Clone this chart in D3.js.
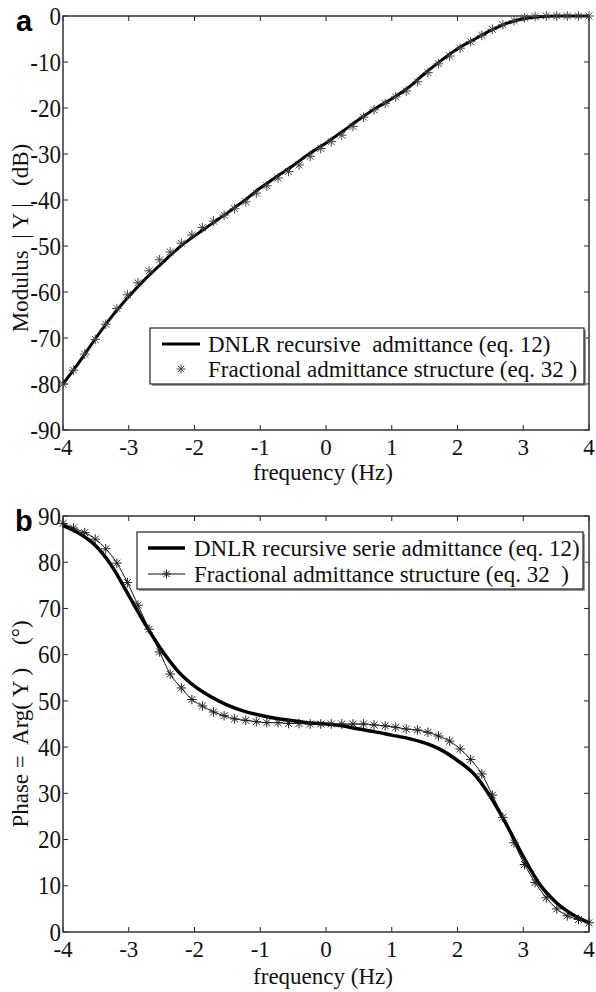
<!DOCTYPE html>
<html><head><meta charset="utf-8">
<script src="https://cdn.jsdelivr.net/npm/d3@7"></script>
<style>
html,body{margin:0;padding:0;background:#fff;}
svg{display:block;font-family:"Liberation Serif","Times New Roman",serif;}
</style></head><body>
<svg id="chart" width="596" height="992"></svg>
<script>
// ---------- data ----------
const xTicks = [-4,-3,-2,-1,0,1,2,3,4];
const yTicksA = [0,-10,-20,-30,-40,-50,-60,-70,-80,-90];
const yTicksB = [0,10,20,30,40,50,60,70,80,90];

// DNLR recursive admittance (line), frequency grid
const lineFreq = [-4,-3.75,-3.5,-3.25,-3,-2.75,-2.5,-2.25,-2,-1.75,-1.5,-1.25,-1,-0.75,-0.5,-0.25,0,0.25,0.5,0.75,1,1.25,1.5,1.75,2,2.25,2.5,2.75,3,3.25,3.5,3.75,4];
const modulusDNLR = [-80,-75.2,-70,-65.2,-61,-57.2,-53.8,-50.5,-47.8,-45.3,-42.8,-40.2,-37.4,-34.9,-32.5,-29.9,-27.6,-25.1,-22.5,-20.1,-18,-15.6,-12.5,-9.7,-7.1,-5.1,-3.2,-1.6,-0.6,-0.15,0,0,0];
const phaseDNLR = [87.9,86.2,83.5,79.0,72.8,66.6,61.0,56.4,53.2,50.9,49.1,47.8,46.9,46.2,45.7,45.2,45.0,44.6,43.9,43.3,42.6,41.9,40.9,39.4,37.1,34.2,29.3,23.1,16.3,10.3,6.4,3.8,2.0];

// Fractional admittance structure (markers)
const starFreq = [-4.00,-3.84,-3.67,-3.51,-3.35,-3.18,-3.02,-2.86,-2.69,-2.53,-2.37,-2.20,-2.04,-1.88,-1.71,-1.55,-1.39,-1.22,-1.06,-0.90,-0.73,-0.57,-0.41,-0.24,-0.08,0.08,0.24,0.41,0.57,0.73,0.90,1.06,1.22,1.39,1.55,1.71,1.88,2.04,2.20,2.37,2.53,2.69,2.86,3.02,3.18,3.35,3.51,3.67,3.84,4.00];
const modulusFrac = [-80,-77.0,-73.5,-70.3,-67.0,-63.6,-60.6,-58.0,-55.4,-53.0,-51.3,-49.4,-47.6,-46.0,-44.6,-43.3,-41.9,-40.4,-38.5,-36.9,-35.2,-33.8,-32.4,-30.5,-28.8,-27.3,-25.9,-24.0,-22.0,-20.4,-19.0,-17.6,-16.3,-14.3,-12.3,-10.4,-8.7,-7.0,-5.6,-4.2,-2.9,-1.9,-1.0,-0.4,-0.1,0,0,0,0,0];
const phaseFrac = [88.4,87.4,86.4,85.0,82.9,79.8,75.6,70.7,65.5,60.6,55.8,52.8,50.3,48.9,47.6,46.8,46.1,45.8,45.5,45.3,45.3,45.1,45.1,45.0,45.0,45.0,45.0,45.0,45.0,44.8,44.6,44.3,43.9,43.7,43.2,42.4,41.3,39.6,37.3,34.2,29.6,24.8,19.3,14.6,10.7,7.4,5.0,3.5,2.7,2.0];

const legendA = ["DNLR recursive  admittance (eq. 12)", "Fractional admittance structure (eq. 32 )"];
const legendB = ["DNLR recursive serie admittance (eq. 12)", "Fractional admittance structure (eq. 32  )"];

// ---------- drawing ----------
const svg = d3.select("#chart");
const X0 = 63, X1 = 589;
const FS = 23;

function starPath(r){
  const k = r*0.72;
  return `M${-r},0L${r},0M0,${-r}L0,${r}M${-k},${-k}L${k},${k}M${-k},${k}L${k},${-k}`;
}

function panel(cfg){
  const g = svg.append("g");
  const x = d3.scaleLinear().domain([-4,4]).range([X0,X1]);
  const y = d3.scaleLinear().domain(cfg.yDomain).range([cfg.bottom, cfg.top]);

  const tl = 5;
  const axStyle = s => s.attr("stroke","#222").attr("stroke-width",1);
  xTicks.forEach(t=>{
    g.append("line").attr("x1",x(t)).attr("x2",x(t)).attr("y1",cfg.bottom).attr("y2",cfg.bottom-tl).call(axStyle);
    g.append("line").attr("x1",x(t)).attr("x2",x(t)).attr("y1",cfg.top).attr("y2",cfg.top+tl).call(axStyle);
    g.append("text").attr("x",x(t)).attr("y",cfg.bottom+25)
      .attr("text-anchor","middle").attr("font-size",FS).attr("fill","#111").text(t);
  });
  cfg.yTicks.forEach(t=>{
    g.append("line").attr("x1",X0).attr("x2",X0+tl).attr("y1",y(t)).attr("y2",y(t)).call(axStyle);
    g.append("line").attr("x1",X1).attr("x2",X1-tl).attr("y1",y(t)).attr("y2",y(t)).call(axStyle);
    g.append("text").attr("transform",`translate(${X0-2},${y(t)}) scale(1,1.1)`)
      .attr("dy","0.34em").attr("text-anchor","end")
      .attr("font-size",FS).attr("fill","#111").text(t);
  });

  // frame
  g.append("rect").attr("x",X0).attr("y",cfg.top).attr("width",X1-X0).attr("height",cfg.bottom-cfg.top)
    .attr("fill","none").attr("stroke","#333").attr("stroke-width",1.5);

  const pts = starFreq.map((f,i)=>[f,cfg.frac[i]]);
  if(cfg.fracLine){
    g.append("path").datum(pts)
      .attr("d", d3.line().x(d=>x(d[0])).y(d=>y(d[1])).curve(d3.curveMonotoneX))
      .attr("fill","none").attr("stroke","#111").attr("stroke-width",1);
  }
  const lp = lineFreq.map((f,i)=>[f,cfg.dnlr[i]]);
  g.append("path").datum(lp)
    .attr("d", d3.line().x(d=>x(d[0])).y(d=>y(d[1])).curve(d3.curveMonotoneX))
    .attr("fill","none").attr("stroke","#000").attr("stroke-width",cfg.lineW).attr("stroke-linejoin","round");
  g.selectAll("path.star").data(pts).enter().append("path").attr("class","star")
    .attr("transform",d=>`translate(${x(d[0])},${y(d[1])})`)
    .attr("d",starPath(4.8)).attr("fill","none").attr("stroke",cfg.starColor).attr("stroke-width",1);

  // legend
  const L = cfg.legend;
  g.append("rect").attr("x",L.x+2).attr("y",L.y+2).attr("width",L.w).attr("height",L.h)
    .attr("fill","#999");
  g.append("rect").attr("x",L.x).attr("y",L.y).attr("width",L.w).attr("height",L.h)
    .attr("fill","#fff").attr("stroke","#222").attr("stroke-width",1.2);
  g.append("line").attr("x1",L.sx0).attr("x2",L.sx1).attr("y1",L.r1).attr("y2",L.r1)
    .attr("stroke","#000").attr("stroke-width",cfg.lineW);
  if(cfg.fracLine){
    g.append("line").attr("x1",L.sx0).attr("x2",L.sx1).attr("y1",L.r2).attr("y2",L.r2)
      .attr("stroke","#111").attr("stroke-width",1);
  }
  g.append("path").attr("transform",`translate(${(L.sx0+L.sx1)/2},${L.r2})`)
    .attr("d",starPath(4.5)).attr("fill","none").attr("stroke",cfg.starColor).attr("stroke-width",1);
  g.append("text").attr("x",L.tx).attr("y",L.r1).attr("dy","0.33em").attr("font-size",FS).attr("fill","#111")
    .style("white-space","pre").text(cfg.legendText[0]);
  g.append("text").attr("x",L.tx).attr("y",L.r2).attr("dy","0.33em").attr("font-size",FS).attr("fill","#111")
    .style("white-space","pre").text(cfg.legendText[1]);

  // axis labels
  g.append("text").attr("x",(X0+X1)/2 - 3).attr("y",cfg.xLabelY).attr("text-anchor","middle")
    .attr("font-size",FS).attr("fill","#111").text("frequency (Hz)");
  g.append("text").attr("transform",`translate(${cfg.yLabelX},${cfg.yLabelCY}) rotate(-90)`)
    .attr("text-anchor","middle").attr("font-size",FS).attr("fill","#111")
    .style("white-space","pre").text(cfg.yLabel);

  svg.append("text").attr("x",cfg.letterX).attr("y",cfg.letterY)
    .attr("font-family","'Liberation Sans',Arial,sans-serif").attr("font-weight","bold")
    .attr("font-size",29).attr("fill","#000").text(cfg.letter);
}

panel({
  top:16, bottom:430, yDomain:[-90,0], yTicks:yTicksA,
  dnlr:modulusDNLR, frac:modulusFrac, fracLine:false, lineW:3, starColor:"#444",
  legend:{x:150,y:328,w:434,h:56,sx0:162,sx1:200,r1:344,r2:369,tx:208},
  legendText:legendA,
  xLabelY:480, yLabelX:28, yLabelCY:238, yLabel:"Modulus  | Y |   (dB)",
  letter:"a", letterX:16, letterY:31
});
panel({
  top:516, bottom:932, yDomain:[0,90], yTicks:yTicksB,
  dnlr:phaseDNLR, frac:phaseFrac, fracLine:true, lineW:3.5, starColor:"#222",
  legend:{x:137,y:532,w:446,h:57,sx0:148,sx1:185,r1:548,r2:574,tx:194},
  legendText:legendB,
  xLabelY:984, yLabelX:28, yLabelCY:724, yLabel:"Phase =  Arg( Y )    (°)",
  letter:"b", letterX:15, letterY:531
});
</script>
</body></html>
